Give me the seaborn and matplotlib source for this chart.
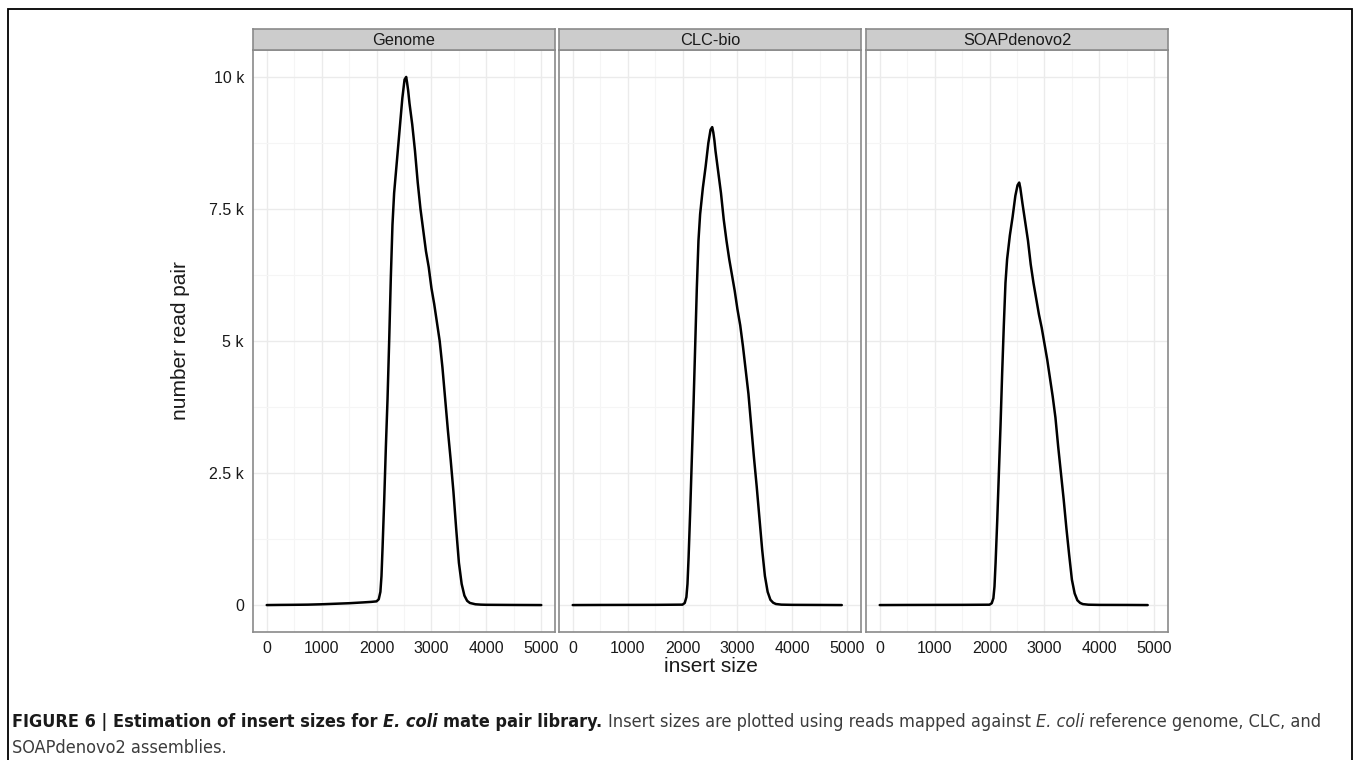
import os
import glob
import matplotlib
matplotlib.use("Agg")
import matplotlib.pyplot as plt
import numpy as np
import pandas as pd
import seaborn as sns
from matplotlib.ticker import FixedLocator, MultipleLocator
from matplotlib.patches import Rectangle
from matplotlib import font_manager
from matplotlib.font_manager import FontProperties

# ---------------- data ----------------
panels = ["Genome", "CLC-bio", "SOAPdenovo2"]

genome_x = [0, 250, 500, 750, 1000, 1250, 1500, 1750, 1900, 2000, 2040, 2070, 2090, 2110,
            2140, 2170, 2200, 2230, 2260, 2290, 2320, 2370, 2420, 2470, 2510, 2540, 2555,
            2575, 2600, 2650, 2700, 2750, 2800, 2850, 2900, 2950, 3000, 3050, 3100, 3150,
            3200, 3250, 3300, 3350, 3400, 3450, 3500, 3550, 3600, 3650, 3700, 3800, 3900,
            4000, 4500, 5000]
genome_y = [0, 3, 5, 8, 15, 25, 35, 50, 60, 70, 110, 250, 550, 1100,
            2000, 3000, 3900, 5000, 6200, 7200, 7800, 8400, 9000, 9600, 9950, 10000, 9900,
            9750, 9500, 9100, 8600, 8000, 7500, 7100, 6700, 6400, 6000, 5700, 5350, 5000,
            4500, 3900, 3300, 2750, 2150, 1450, 800, 400, 180, 80, 40, 15, 8,
            5, 2, 0]

clc_x = [0, 500, 1000, 1500, 2000, 2040, 2070, 2090, 2110, 2140, 2170, 2200, 2230, 2260,
         2290, 2320, 2370, 2420, 2470, 2510, 2540, 2560, 2580, 2600, 2650, 2700, 2750,
         2800, 2850, 2900, 2950, 3000, 3050, 3100, 3150, 3200, 3250, 3300, 3350, 3400,
         3450, 3500, 3550, 3600, 3650, 3700, 3800, 4000, 4500, 4900]
clc_y = [0, 2, 3, 4, 8, 40, 150, 400, 900, 1800, 2800, 3800, 4900, 6000,
         6900, 7400, 7900, 8300, 8750, 9000, 9050, 8950, 8800, 8600, 8200, 7800, 7300,
         6900, 6550, 6250, 5950, 5600, 5300, 4900, 4450, 4000, 3400, 2800, 2250, 1650,
         1050, 550, 250, 100, 45, 20, 8, 4, 2, 0]

soap_x = [0, 500, 1000, 1500, 2000, 2040, 2070, 2090, 2110, 2140, 2170, 2200, 2230, 2260,
          2290, 2320, 2370, 2420, 2470, 2510, 2540, 2560, 2580, 2600, 2650, 2700, 2750,
          2800, 2850, 2900, 2950, 3000, 3050, 3100, 3150, 3200, 3250, 3300, 3350, 3400,
          3450, 3500, 3550, 3600, 3650, 3700, 3800, 4000, 4500, 4880]
soap_y = [0, 2, 3, 4, 7, 35, 130, 350, 800, 1600, 2500, 3400, 4400, 5300,
          6100, 6550, 7000, 7350, 7750, 7950, 8000, 7900, 7750, 7600, 7250, 6900, 6450,
          6100, 5800, 5500, 5250, 4950, 4650, 4300, 3950, 3550, 3000, 2500, 2000, 1450,
          950, 480, 220, 90, 40, 18, 7, 3, 2, 0]

x_ticks = [0, 1000, 2000, 3000, 4000, 5000]
y_ticks = [0, 2500, 5000, 7500, 10000]
y_tick_labels = ["0", "2.5 k", "5 k", "7.5 k", "10 k"]

x_title = "insert size"
y_title = "number read pair"

caption_line1 = [
    ("FIGURE 6 | Estimation of insert sizes for ", "bold", "normal", "#1a1a1a"),
    ("E. coli", "bold", "italic", "#1a1a1a"),
    (" mate pair library.", "bold", "normal", "#1a1a1a"),
    (" Insert sizes are plotted using reads mapped against ", "normal", "normal", "#3c3c3c"),
    ("E. coli", "normal", "italic", "#3c3c3c"),
    (" reference genome, CLC, and", "normal", "normal", "#3c3c3c"),
]
caption_line2 = [("SOAPdenovo2 assemblies.", "normal", "normal", "#3c3c3c")]

frames = []
for name, xs, ys in [(panels[0], genome_x, genome_y), (panels[1], clc_x, clc_y),
                     (panels[2], soap_x, soap_y)]:
    frames.append(pd.DataFrame({"panel": name, "insert": xs, "count": ys}))
df = pd.concat(frames, ignore_index=True)

# ---------------- style ----------------
sns.set_theme(style="white")
plt.rcParams["font.family"] = ["Liberation Sans", "DejaVu Sans"]

W, H = 1358, 760
fig = plt.figure(figsize=(W / 100, H / 100), dpi=100)
fig.patch.set_facecolor("white")


def fx(px):
    return px / W


def fy(py):
    return 1 - py / H


lefts = [253, 559, 866]
pw = 302
top, bottom, strip_top = 50, 632, 29
border = "#8a8a8a"

for i, name in enumerate(panels):
    ax = fig.add_axes([fx(lefts[i]), fy(bottom), pw / W, (bottom - top) / H])
    sub = df[df["panel"] == name]
    sns.lineplot(data=sub, x="insert", y="count", ax=ax, color="black", lw=1.8,
                 estimator=None, sort=False)
    ax.set_xlim(-250, 5250)
    ax.set_ylim(-510, 10510)
    ax.set_facecolor("white")
    ax.xaxis.set_major_locator(FixedLocator(x_ticks))
    ax.xaxis.set_minor_locator(MultipleLocator(500))
    ax.yaxis.set_major_locator(FixedLocator(y_ticks))
    ax.yaxis.set_minor_locator(MultipleLocator(1250))
    ax.grid(which="major", color="#ebebeb", lw=1.0)
    ax.grid(which="minor", color="#f5f5f5", lw=0.8)
    ax.set_axisbelow(True)
    for s in ax.spines.values():
        s.set_color(border)
        s.set_linewidth(1.2)
    ax.set_xlabel("")
    ax.set_ylabel("")
    ax.tick_params(axis="both", which="major", direction="out", length=4, width=0.8,
                   color="#333333", labelsize=11.5, labelcolor="#1a1a1a", pad=2.5)
    ax.tick_params(which="minor", length=0)
    ax.set_xticklabels([str(t) for t in x_ticks])
    if i == 0:
        ax.set_yticklabels(y_tick_labels)
    else:
        ax.tick_params(axis="y", which="both", left=False, labelleft=False)

    # strip
    sax = fig.add_axes([fx(lefts[i]), fy(top), pw / W, (top - strip_top) / H])
    sax.set_facecolor("#cccccc")
    sax.set_xticks([])
    sax.set_yticks([])
    for s in sax.spines.values():
        s.set_color(border)
        s.set_linewidth(1.2)
    sax.text(0.5, 0.45, name, ha="center", va="center", fontsize=11.8,
             color="#1a1a1a", transform=sax.transAxes)

fig.text(fx(180), fy(341), y_title, rotation=90, ha="center", va="center",
         fontsize=15, color="#1a1a1a")
fig.text(fx(710.5), fy(666), x_title, ha="center", va="center",
         fontsize=15, color="#1a1a1a")

# outer frame
fig.patches.append(Rectangle((fx(8), fy(800)), (1352 - 8) / W, (800 - 9) / H,
                             transform=fig.transFigure, fill=False,
                             edgecolor="black", lw=1.3))

# ---------------- caption font (condensed if available) ----------------
font_files = set(f.fname for f in font_manager.fontManager.ttflist)
for pat in ["/usr/share/fonts/**/*.ttf", "/usr/local/share/fonts/**/*.ttf"]:
    font_files.update(glob.glob(pat, recursive=True))


def find_file(keys):
    for k in keys:
        for f in sorted(font_files):
            if os.path.basename(f).lower() == k.lower():
                return f
    return None


variants = {
    ("normal", "normal"): ["LiberationSansNarrow-Regular.ttf", "DejaVuSansCondensed.ttf"],
    ("bold", "normal"): ["LiberationSansNarrow-Bold.ttf", "DejaVuSansCondensed-Bold.ttf"],
    ("normal", "italic"): ["LiberationSansNarrow-Italic.ttf", "DejaVuSansCondensed-Oblique.ttf"],
    ("bold", "italic"): ["LiberationSansNarrow-BoldItalic.ttf",
                         "DejaVuSansCondensed-BoldOblique.ttf"],
}
cap_files = {k: find_file(v) for k, v in variants.items()}
use_files = all(v is not None for v in cap_files.values())


def fprops(size, weight, style):
    if use_files:
        return FontProperties(fname=cap_files[(weight, style)], size=size)
    return FontProperties(family="Liberation Sans", weight=weight, style=style, size=size)


renderer = fig.canvas.get_renderer()


def text_width(s, size, weight, style):
    fp = fprops(size, weight, style)
    t1 = fig.text(0, 0, "|" + s + "|", fontproperties=fp)
    t2 = fig.text(0, 0, "||", fontproperties=fp)
    w = t1.get_window_extent(renderer).width - t2.get_window_extent(renderer).width
    t1.remove()
    t2.remove()
    return w


def draw_runs(runs, x0, ybase, size, draw=True):
    x = x0
    for txt, weight, style, color in runs:
        stripped = txt.lstrip(" ")
        lead = len(txt) - len(stripped)
        if lead:
            x += text_width(" " * lead, size, weight, style)
        if draw:
            fig.text(fx(x), fy(ybase), stripped, fontproperties=fprops(size, weight, style),
                     color=color, ha="left", va="baseline")
        x += text_width(stripped, size, weight, style)
    return x


size = 13.0
w = draw_runs(caption_line1, 12, 727, size, draw=False) - 12
size = size * (1310 / w)
draw_runs(caption_line1, 12, 727, size)
draw_runs(caption_line2, 12, 753, size)

fig.savefig("out.png", dpi=100, facecolor="white")
